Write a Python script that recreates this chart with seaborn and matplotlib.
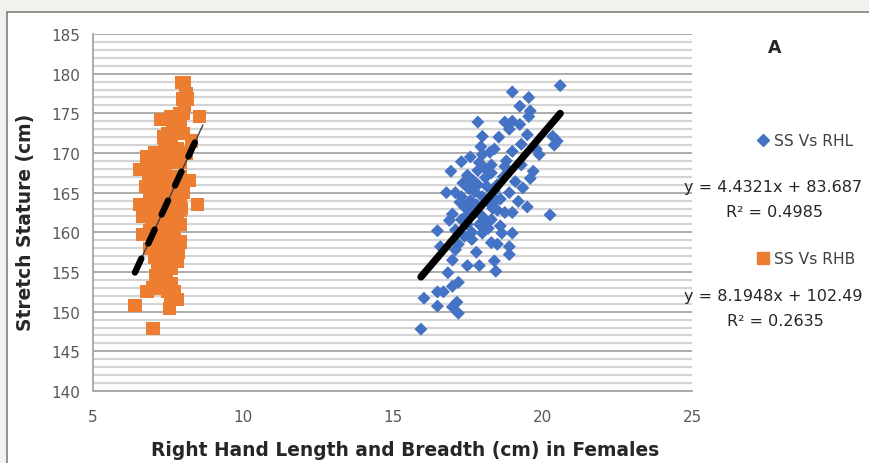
import matplotlib
matplotlib.use("Agg")
import matplotlib.pyplot as plt
import seaborn as sns
import numpy as np
import pandas as pd
from matplotlib.lines import Line2D
from matplotlib.patches import Rectangle
from matplotlib.ticker import MultipleLocator

# ---------------- data ----------------
rhl_x = [15.95, 16.05, 16.5, 16.5, 16.7, 17.0, 17.15, 17.2, 17.2, 17.0, 16.85, 17.0, 17.5, 17.9,
         18.45, 18.4, 18.9, 18.9, 18.3, 19.0, 18.65, 16.5, 17.0, 19.5, 20.26, 19.0, 18.75, 18.0,
         17.65, 17.4, 17.1, 17.3, 18.3, 18.5, 17.65, 17.1, 20.6, 19.0, 19.55, 19.25, 19.6, 19.55,
         17.85, 18.75, 19.0, 18.9, 19.25, 18.0, 18.55, 19.5, 20.35, 20.5, 19.3, 19.0, 19.9, 18.0,
         18.25, 17.3, 16.95, 17.5, 17.9, 18.3, 18.75, 19.7, 16.8, 17.1, 17.85, 18.1, 19.1, 19.35,
         17.75, 17.6, 17.8, 18.0, 18.2, 18.4, 18.6, 18.0, 17.9, 17.5, 18.2, 17.4, 17.7, 18.5,
         18.7, 18.9, 18.1, 17.6, 18.4, 18.8, 19.3, 19.8, 20.4, 19.2, 18.6, 17.2, 17.8, 16.6,
         17.3, 18.3, 19.6, 17.95, 18.5, 17.35, 16.9, 17.55, 17.75, 18.05, 18.35, 17.45, 17.85,
         18.15, 17.65, 18.45, 17.25]
rhl_y = [147.8, 151.7, 150.7, 152.5, 152.5, 150.6, 151.2, 149.8, 153.7, 153.2, 154.9, 156.5, 155.8, 155.8,
         155.1, 156.4, 157.2, 158.2, 158.7, 159.9, 159.9, 160.2, 162.3, 163.2, 162.2, 162.5, 162.5, 159.9,
         159.1, 159.5, 160.3, 161.6, 161.6, 162.8, 162.8, 157.8, 178.5, 177.7, 177.0, 175.9, 175.3, 174.6,
         173.9, 173.9, 174.0, 173.0, 173.6, 172.1, 172.0, 172.3, 172.1, 171.5, 171.1, 170.2, 169.8, 169.8,
         170.1, 168.9, 167.7, 167.2, 168.8, 168.5, 168.3, 167.7, 165.0, 165.0, 166.0, 166.9, 166.4, 165.6,
         165.1, 164.0, 163.5, 164.5, 163.8, 165.2, 164.2, 162.0, 161.0, 161.0, 160.5, 163.2, 166.5, 166.0,
         167.0, 165.0, 168.0, 169.5, 170.5, 169.0, 168.5, 170.5, 171.0, 163.9, 160.8, 158.5, 157.5, 158.2,
         164.5, 167.5, 166.8, 170.8, 158.5, 166.2, 161.5, 165.5, 162.5, 161.2, 163.0, 162.0, 167.8,
         165.8, 160.0, 164.0, 163.8]

rhb_x = [7.95, 8.05, 8.1, 8.0, 8.15, 8.05, 7.9, 8.0, 7.6, 7.8, 8.55, 7.25, 7.45, 7.7, 7.9,
         7.5, 7.8, 8.0, 7.4, 7.6, 8.3, 7.5, 7.8, 6.8, 7.3, 7.6, 7.1, 7.5, 7.9, 6.55, 7.0, 7.4,
         7.2, 7.6, 7.9, 7.0, 7.4, 7.8, 6.9, 7.3, 7.7, 8.0, 7.1, 7.5, 7.9, 6.55, 6.8, 8.5,
         7.2, 7.6, 7.9, 6.65, 7.0, 7.4, 7.8, 7.2, 7.6, 7.9, 6.9, 7.3, 7.7, 6.65, 7.1, 7.5,
         7.2, 7.6, 7.9, 6.9, 7.4, 7.7, 7.2, 7.6, 7.8, 7.5, 7.8, 7.2, 7.6, 7.1, 7.4, 7.3, 7.6,
         7.0, 7.25, 6.8, 7.5, 7.7, 7.8, 7.6, 6.4, 7.55, 7.0,
         7.65, 7.35, 7.05, 7.75, 6.85, 7.15, 7.85, 6.75, 7.45, 7.95, 7.25, 6.95, 7.55, 7.35, 7.85,
         7.15, 7.45, 7.05, 8.2, 8.1]
rhb_y = [178.9, 178.9, 177.5, 176.8, 176.8, 176.0, 175.0, 175.0, 174.6, 174.6, 174.6, 174.2, 174.2, 173.5, 173.5,
         172.5, 172.5, 172.5, 171.5, 171.5, 171.5, 170.5, 170.5, 169.6, 169.6, 169.6, 168.8, 168.8, 168.8, 167.9, 167.9, 167.9,
         167.0, 167.0, 167.0, 166.0, 166.0, 166.0, 165.0, 165.0, 165.0, 165.0, 164.0, 164.0, 164.0, 163.5, 163.5, 163.5,
         162.8, 162.8, 162.8, 162.0, 162.0, 162.0, 162.0, 161.0, 161.0, 161.0, 160.2, 160.2, 160.2, 159.7, 159.7, 159.7,
         158.8, 158.8, 158.8, 158.0, 158.0, 158.0, 157.0, 157.0, 157.0, 156.4, 156.4, 155.5, 155.5, 154.6, 154.6, 153.5, 153.5,
         153.0, 153.0, 152.5, 152.5, 152.5, 151.5, 151.5, 150.8, 150.4, 147.9,
         173.0, 172.0, 170.0, 169.0, 167.2, 166.5, 165.5, 165.8, 164.5, 163.0, 161.5, 161.0, 160.0, 157.8, 157.5,
         156.0, 155.0, 156.8, 166.5, 170.0]

series_labels = ["SS Vs RHL", "SS Vs RHB"]
fit_slope = [4.4321, 8.1948]
fit_intercept = [83.687, 102.49]
eq_labels = ["y = 4.4321x + 83.687", "y = 8.1948x + 102.49"]
r2_labels = ["R² = 0.4985", "R² = 0.2635"]
x_ticks = [5, 10, 15, 20, 25]
y_ticks = [140, 145, 150, 155, 160, 165, 170, 175, 180, 185]

BLUE = "#4472C4"
ORANGE = "#ED7D31"

# ---------------- figure ----------------
sns.set_style("white")
plt.rcParams["font.family"] = ["DejaVu Sans"]

W, H = 869, 464
fig = plt.figure(figsize=(W / 100, H / 100), dpi=100)
fig.patch.set_facecolor("#f2f2ec")

def fx(px):
    return px / W

def fy(py):
    return 1 - py / H

# chart frame
fig.add_artist(Rectangle((fx(7), fy(480)), fx(880) - fx(7), fy(12.5) - fy(480),
                         transform=fig.transFigure, facecolor="white",
                         edgecolor="#7f7f7f", linewidth=1.2, zorder=0))

ax = fig.add_axes([fx(93), fy(392), fx(692) - fx(93), fy(35) - fy(392)])
ax.set_facecolor("white")

df_l = pd.DataFrame({"x": rhl_x, "y": rhl_y})
df_b = pd.DataFrame({"x": rhb_x, "y": rhb_y})

sns.scatterplot(data=df_b, x="x", y="y", marker="s", s=92, color=ORANGE,
                edgecolor="none", linewidth=0, ax=ax, zorder=3)
sns.scatterplot(data=df_l, x="x", y="y", marker="D", s=44, color=BLUE,
                edgecolor="none", linewidth=0, ax=ax, zorder=3)

# trend lines
xl = np.array([min(rhl_x), max(rhl_x)])
ax.plot(xl, fit_slope[0] * xl + fit_intercept[0], color="black", lw=5.2,
        solid_capstyle="round", zorder=4)
xb = np.array([min(rhb_x), max(rhb_x) + 0.12])
ax.plot(xb, fit_slope[1] * xb + fit_intercept[1], color="#404040", lw=1.0, zorder=4)
xb2 = np.array([min(rhb_x), max(rhb_x) - 0.08])
ax.plot(xb2, fit_slope[1] * xb2 + fit_intercept[1], color="black", lw=4.6,
        linestyle=(0, (2.4, 2.6)), dash_capstyle="round", zorder=5)

ax.set_xlim(5, 25)
ax.set_ylim(140, 185)
ax.set_xticks(x_ticks)
ax.set_yticks(y_ticks)
ax.yaxis.set_minor_locator(MultipleLocator(1))
ax.grid(which="major", axis="y", color="#a6a6a6", lw=1.3, zorder=0)
ax.grid(which="minor", axis="y", color="#d4d4d4", lw=1.6, zorder=0)
ax.grid(False, axis="x")
ax.set_axisbelow(True)
for s in ["top", "right"]:
    ax.spines[s].set_visible(False)
for s in ["left", "bottom"]:
    ax.spines[s].set_color("#a6a6a6")
    ax.spines[s].set_linewidth(1.3)
ax.tick_params(axis="y", which="major", length=6, width=1.2, color="#a6a6a6",
               direction="out", pad=3, labelsize=11, labelcolor="#595959")
ax.tick_params(axis="y", which="minor", length=0)
ax.tick_params(axis="x", which="major", length=6, width=1.2, color="#a6a6a6",
               direction="out", pad=7, labelsize=11, labelcolor="#595959")
ax.set_xlabel("")
ax.set_ylabel("")

# axis titles
fig.text(fx(405), fy(451), "Right Hand Length and Breadth (cm) in Females",
         ha="center", va="center", fontsize=13.4, fontweight="bold", color="#262626")
fig.text(fx(26), fy(222), "Stretch Stature (cm)", rotation=90,
         ha="center", va="center", fontsize=13.4, fontweight="bold", color="#262626")

fig.text(fx(775), fy(48), "A", ha="center", va="center", fontsize=12.5,
         fontweight="bold", color="#262626")

# legend / equations
fig.add_artist(Line2D([fx(763)], [fy(141)], marker="D", markersize=6.5, color=BLUE,
                      linestyle="none", transform=fig.transFigure))
fig.add_artist(Line2D([fx(763)], [fy(259)], marker="s", markersize=9.0, color=ORANGE,
                      linestyle="none", transform=fig.transFigure))
for yy, t in [(141, series_labels[0]), (259, series_labels[1])]:
    fig.text(fx(774), fy(yy), t, ha="left", va="center", fontsize=11.2, color="#404040")
for yy, t in [(188, eq_labels[0]), (296, eq_labels[1])]:
    fig.text(fx(773), fy(yy), t, ha="center", va="center", fontsize=11.5, color="#262626")
for yy, t in [(213, r2_labels[0]), (322, r2_labels[1])]:
    fig.text(fx(775), fy(yy), t, ha="center", va="center", fontsize=11.5, color="#262626")

fig.savefig("out.png", dpi=100, facecolor=fig.get_facecolor())
